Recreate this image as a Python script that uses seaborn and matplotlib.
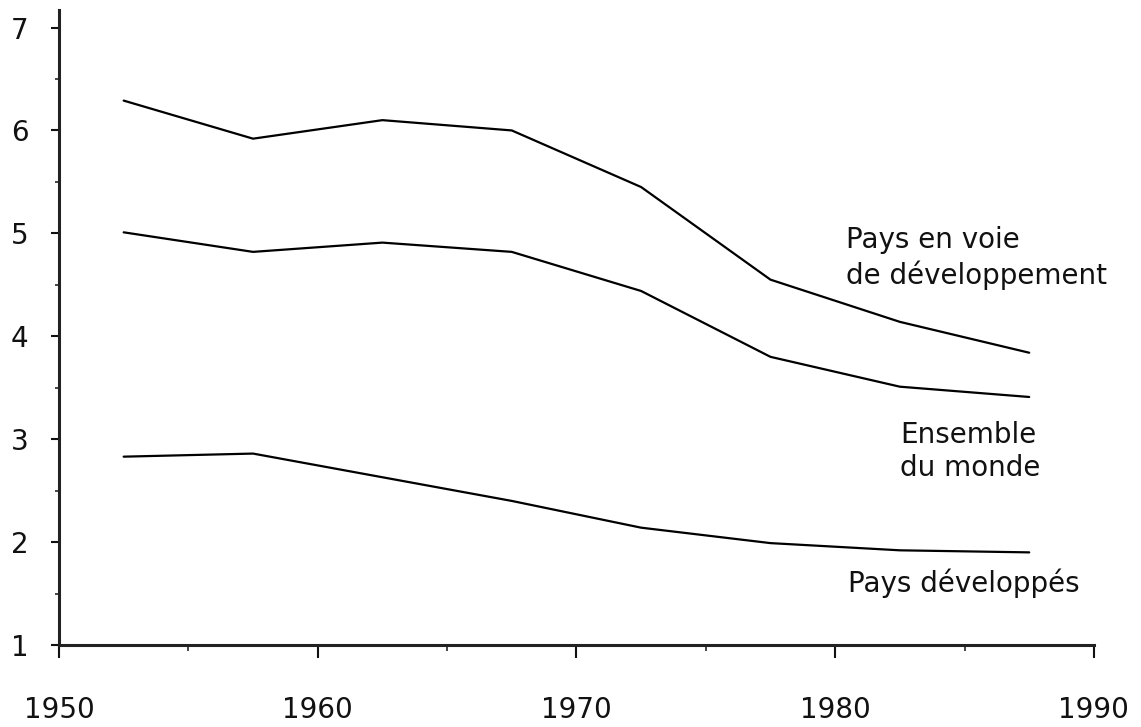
import matplotlib
matplotlib.use("Agg")
import matplotlib.pyplot as plt
import pandas as pd
import seaborn as sns
from matplotlib.ticker import MultipleLocator

# periods (mid-points of the five-year intervals)
years = [1952.5, 1957.5, 1962.5, 1967.5, 1972.5, 1977.5, 1982.5, 1987.5]
developing = [6.29, 5.92, 6.10, 6.00, 5.45, 4.55, 4.14, 3.84]
world = [5.01, 4.82, 4.91, 4.82, 4.44, 3.80, 3.51, 3.41]
developed = [2.83, 2.86, 2.63, 2.40, 2.14, 1.99, 1.92, 1.90]
groups = ["Pays en voie de développement", "Ensemble du monde", "Pays développés"]

x_ticks = [1950, 1960, 1970, 1980, 1990]
y_ticks = [1, 2, 3, 4, 5, 6, 7]

df = pd.DataFrame({
    "annee": years * 3,
    "valeur": developing + world + developed,
    "groupe": [groups[0]] * len(years) + [groups[1]] * len(years) + [groups[2]] * len(years),
})

sns.set_style("ticks")
plt.rcParams['font.family'] = ['DejaVu Sans']

fig = plt.figure(figsize=(11.41, 7.27), dpi=100)
ax = fig.add_axes([0.0517, 0.1128, 0.907, 0.8734])

sns.lineplot(data=df, x="annee", y="valeur", units="groupe", estimator=None,
             color="black", linewidth=1.6, ax=ax, legend=False)

ax.set_xlim(1950, 1990)
ax.set_ylim(1, 7.17)
sns.despine(ax=ax)
for s in ["left", "bottom"]:
    ax.spines[s].set_linewidth(2.2)
    ax.spines[s].set_color("#222222")

ax.set_xticks(x_ticks)
ax.xaxis.set_minor_locator(MultipleLocator(5))
ax.set_yticks(y_ticks)
ax.yaxis.set_minor_locator(MultipleLocator(0.5))
ax.tick_params(axis="x", which="major", length=9, width=1.5, pad=28, labelsize=20, colors="#111111")
ax.tick_params(axis="x", which="minor", length=4, width=1.2)
ax.tick_params(axis="y", which="major", length=6, width=1.5, pad=16, labelsize=20, colors="#111111")
ax.tick_params(axis="y", which="minor", length=3, width=1.2)
ax.set_xlabel("")
ax.set_ylabel("")

ax.text(1980.4, 4.76, "Pays en voie\nde développement", fontsize=20, ha="left", va="center",
        linespacing=1.25, color="#111111")
ax.text(1982.5, 2.88, "Ensemble\ndu monde", fontsize=20, ha="left", va="center",
        linespacing=1.25, color="#111111")
ax.text(1980.5, 1.60, "Pays développés", fontsize=20, ha="left", va="center", color="#111111")

fig.savefig("out.png", dpi=100)
